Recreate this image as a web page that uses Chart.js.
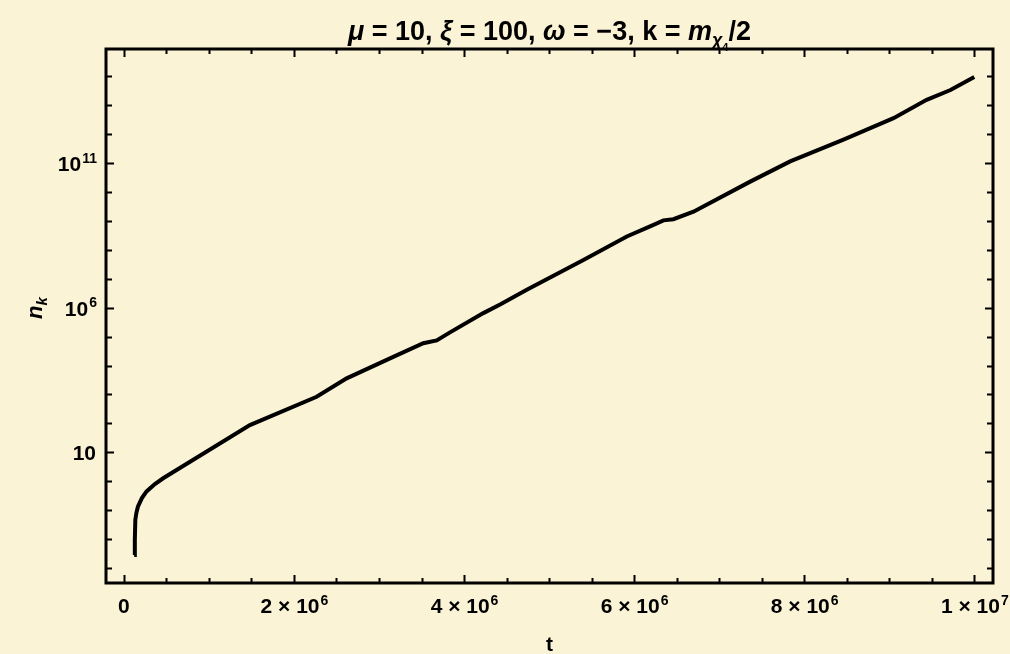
<!DOCTYPE html>
<html>
<head>
<meta charset="utf-8">
<script src="https://cdn.jsdelivr.net/npm/chart.js@4.4.1/dist/chart.umd.min.js"></script>
<style>
  html, body { margin: 0; padding: 0; background: #FAF3D5; }
  #wrap { width: 1010px; height: 654px; }
</style>
</head>
<body>
<div id="wrap"><canvas id="nkChart" width="1010" height="654"></canvas></div>
<script>
// t values
const tValues = [0.121e6, 0.129e6, 0.135e6, 0.147e6, 0.165e6, 0.212e6, 0.267e6, 0.365e6, 0.462e6,
    1.482e6, 2.267e6, 2.62e6, 3.168e6, 3.521e6, 3.679e6, 3.835e6, 4.227e6, 4.424e6, 4.738e6,
    5.404e6, 5.914e6, 6.188e6, 6.345e6, 6.462e6, 6.698e6, 7.365e6, 7.835e6, 8.462e6, 9.05e6,
    9.44e6, 9.72e6, 10.0e6];
// n_k values
const nValues = [2.8e-3, 9.3e-3, 0.046, 0.079, 0.13, 0.26, 0.44, 0.79, 1.26,
    87, 830, 3600, 2.0e4, 5.9e4, 7.4e4, 1.4e5, 6.5e5, 1.3e6, 4.2e6,
    4.5e7, 2.9e8, 6.5e8, 1.05e9, 1.15e9, 2.1e9, 2.3e10, 1.15e11, 6.5e11, 3.6e12,
    1.55e13, 3.4e13, 9.5e13];

// tick labels: [mantissa, exponent]
const xMajor = [0, 2e6, 4e6, 6e6, 8e6, 1e7];
const xLabels = [['0', ''], ['2 \u00d7 10', '6'], ['4 \u00d7 10', '6'], ['6 \u00d7 10', '6'], ['8 \u00d7 10', '6'], ['1 \u00d7 10', '7']];
const yMajor = [10, 1e6, 1e11];
const yLabels = [['10', ''], ['10', '6'], ['10', '11']];

const FONT = '"Liberation Sans", Arial, sans-serif';
const NARROW = '"Liberation Sans Narrow", "Liberation Sans", Arial, sans-serif';

function drawPow(ctx, base, exp, x, y, align, size) {
    const es = Math.round(size * 0.65);
    ctx.font = 'bold ' + size + 'px ' + FONT;
    const wb = ctx.measureText(base).width;
    ctx.font = 'bold ' + es + 'px ' + FONT;
    const we = exp ? ctx.measureText(exp).width : 0;
    const w = wb + we;
    let x0 = x;
    if (align === 'center') x0 = x - w / 2;
    if (align === 'right') x0 = x - w;
    ctx.textBaseline = 'alphabetic';
    ctx.textAlign = 'left';
    ctx.font = 'bold ' + size + 'px ' + FONT;
    ctx.fillText(base, x0, y);
    if (exp) {
        ctx.font = 'bold ' + es + 'px ' + FONT;
        ctx.fillText(exp, x0 + wb + 1, y - size * 0.4);
    }
}

function drawRich(ctx, parts, cx, y) {
    let w = 0;
    parts.forEach(p => {
        ctx.font = (p.i ? 'italic ' : '') + 'bold ' + p.s + 'px ' + NARROW;
        p.w = ctx.measureText(p.t).width;
        w += p.w;
    });
    let x = cx - w / 2;
    ctx.textAlign = 'left';
    ctx.textBaseline = 'alphabetic';
    parts.forEach(p => {
        ctx.font = (p.i ? 'italic ' : '') + 'bold ' + p.s + 'px ' + NARROW;
        ctx.fillText(p.t, x, y + (p.dy || 0));
        x += p.w;
    });
}

const framePlugin = {
    id: 'frame',
    afterDraw(chart) {
        const ctx = chart.ctx;
        const a = chart.chartArea;
        const xs = chart.scales.x, ys = chart.scales.y;
        ctx.save();
        ctx.fillStyle = '#000';
        ctx.strokeStyle = '#000';

        // ticks, pointing inward
        ctx.lineWidth = 2;
        ctx.beginPath();
        for (let v = 0; v <= 10e6 + 1; v += 0.5e6) {
            const px = Math.round(xs.getPixelForValue(v)) + 0.5;
            const len = (v % 2e6 === 0) ? 8 : 5;
            ctx.moveTo(px, a.bottom); ctx.lineTo(px, a.bottom - len);
            ctx.moveTo(px, a.top); ctx.lineTo(px, a.top + len);
        }
        for (let e = -3; e <= 14; e++) {
            const py = Math.round(ys.getPixelForValue(Math.pow(10, e))) + 0.5;
            const len = (e === 1 || e === 6 || e === 11) ? 8 : 6;
            ctx.moveTo(a.left, py); ctx.lineTo(a.left + len, py);
            ctx.moveTo(a.right, py); ctx.lineTo(a.right - len, py);
        }
        ctx.stroke();

        // frame
        ctx.lineWidth = 3;
        ctx.strokeRect(a.left, a.top, a.right - a.left, a.bottom - a.top);

        // x tick labels
        xMajor.forEach((v, i) => {
            drawPow(ctx, xLabels[i][0], xLabels[i][1], xs.getPixelForValue(v), a.bottom + 30, 'center', 21);
        });
        // y tick labels
        yMajor.forEach((v, i) => {
            drawPow(ctx, yLabels[i][0], yLabels[i][1], a.left - 10, ys.getPixelForValue(v) + 8, 'right', 21);
        });

        // axis titles
        ctx.font = 'bold 21px ' + FONT;
        ctx.textAlign = 'center';
        ctx.fillText('t', (a.left + a.right) / 2, 651);

        ctx.save();
        ctx.translate(42, 308);
        ctx.rotate(-Math.PI / 2);
        ctx.font = 'italic bold 22px ' + FONT;
        ctx.textAlign = 'left';
        const wn = ctx.measureText('n').width;
        ctx.font = 'italic bold 15px ' + FONT;
        const wk = ctx.measureText('k').width;
        const x0 = -(wn + wk) / 2;
        ctx.font = 'italic bold 22px ' + FONT;
        ctx.fillText('n', x0, 0);
        ctx.font = 'italic bold 15px ' + FONT;
        ctx.fillText('k', x0 + wn, 5);
        ctx.restore();

        // title
        drawRich(ctx, [
            { t: '\u03bc', i: true, s: 27 },
            { t: ' = 10, ', s: 27 },
            { t: '\u03be', i: true, s: 27 },
            { t: ' = 100, ', s: 27 },
            { t: '\u03c9', i: true, s: 27 },
            { t: ' = \u22123, k = ', s: 27 },
            { t: 'm', i: true, s: 27 },
            { t: '\u03c7', i: true, s: 18, dy: 6 },
            { t: '4', s: 11, dy: 11 },
            { t: '/2', s: 27 }
        ], (a.left + a.right) / 2, 40);

        ctx.restore();
    }
};

const bgPlugin = {
    id: 'bg',
    beforeDraw(chart) {
        const ctx = chart.ctx;
        ctx.save();
        ctx.fillStyle = '#FAF3D5';
        ctx.fillRect(0, 0, chart.width, chart.height);
        ctx.restore();
    }
};

const points = tValues.map((t, i) => ({ x: t, y: nValues[i] }));

new Chart(document.getElementById('nkChart').getContext('2d'), {
    type: 'line',
    data: {
        datasets: [{
            data: points,
            borderColor: '#000',
            borderWidth: 4,
            pointRadius: 0,
            tension: 0,
            fill: false
        }]
    },
    options: {
        responsive: false,
        animation: false,
        layout: { padding: { top: 49, right: 17, left: 0, bottom: 0 } },
        plugins: {
            legend: { display: false },
            tooltip: { enabled: false }
        },
        scales: {
            x: {
                type: 'linear',
                min: -0.21e6,
                max: 10.22e6,
                grid: { display: false },
                border: { display: false },
                ticks: { display: false },
                afterFit(scale) { scale.height = 71; }
            },
            y: {
                type: 'logarithmic',
                min: 3.0e-4,
                max: 8.9e14,
                grid: { display: false },
                border: { display: false },
                ticks: { display: false },
                afterFit(scale) { scale.width = 106; }
            }
        }
    },
    plugins: [bgPlugin, framePlugin]
});
</script>
</body>
</html>
